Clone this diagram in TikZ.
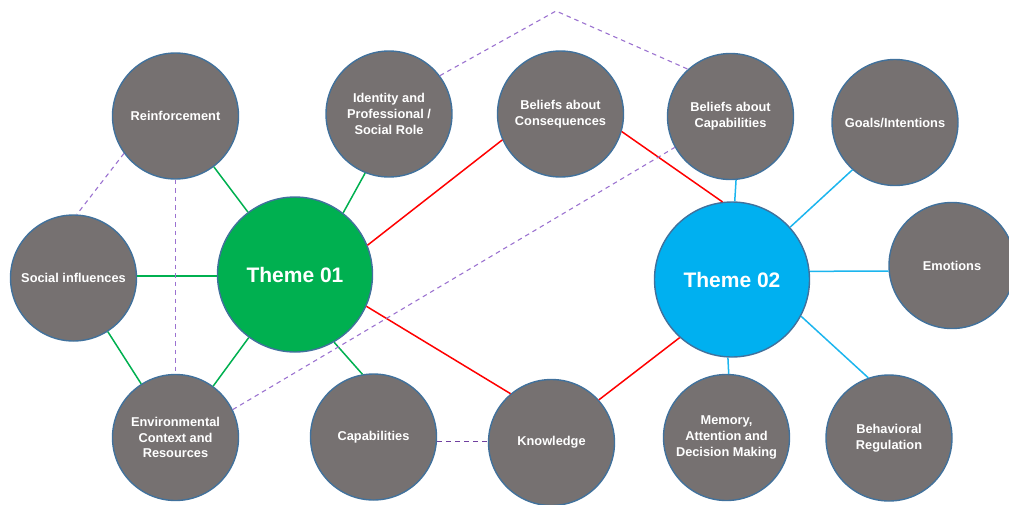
\documentclass[tikz,border=0pt]{standalone}
\usepackage{fontspec}
\setmainfont{Liberation Sans}
\definecolor{nodegray}{HTML}{767171}
\definecolor{nodeborder}{HTML}{41719C}
\definecolor{tgreen}{HTML}{00B050}
\definecolor{tblue}{HTML}{00B0F0}
\definecolor{lblue}{HTML}{1CB5EE}
\definecolor{lred}{HTML}{FF0000}
\definecolor{lpurple}{HTML}{9B72D0}
\definecolor{dpurple}{HTML}{7040A0}
\tikzset{
  x=1pt, y=-1pt,
  topic/.style={circle, draw=nodeborder, line width=1.4pt, fill=nodegray, minimum size=126pt, inner sep=0pt,
    text=white, font=\bfseries\fontsize{12.8}{15.8}\selectfont, align=center},
  theme/.style={circle, draw=nodeborder, line width=1.4pt, minimum size=155pt, inner sep=0pt,
    text=white, font=\bfseries\fontsize{21}{24}\selectfont},
  gline/.style={draw=tgreen, line width=1.5pt},
  bline/.style={draw=lblue, line width=1.5pt},
  rline/.style={draw=lred, line width=1.5pt},
  pdash/.style={draw=lpurple, line width=1.1pt, dash pattern=on 4.5pt off 4pt},
  kdash/.style={draw=dpurple, line width=1.1pt, dash pattern=on 5pt off 4pt},
}
\begin{document}
\begin{tikzpicture}
\useasboundingbox (0,0) rectangle (1009,504);
\clip (0,0) rectangle (1009,504);
\coordinate (apex) at (556,11);
\node[topic] (reinf) at (175.5,116) {Reinforcement};
\node[topic] (ident) at (389,114) {Identity and\\Professional /\\Social Role};
\node[topic] (bcons) at (560.5,114) {Beliefs about\\Consequences};
\node[topic] (bcap) at (730.5,116.5) {Beliefs about\\Capabilities};
\node[topic] (goals) at (895,122.5) {Goals/Intentions};
\node[topic] (soc) at (73.5,278) {Social influences};
\node[theme, fill=tgreen] (t1) at (295,274.5) {Theme 01};
\node[theme, fill=tblue] (t2) at (732,279.5) {Theme 02};
\node[topic] (emo) at (952,265.5) {Emotions};
\node[topic] (env) at (175.5,437.5) {Environmental\\Context and\\Resources};
\node[topic] (cap) at (373.5,437) {Capabilities};
\node[topic] (know) at (551.5,442.5) {Knowledge};
\node[topic] (mem) at (726.5,437.5) {Memory,\\Attention and\\Decision Making};
\node[topic] (beh) at (889,438) {Behavioral\\Regulation};
% green
\draw[gline] (reinf) -- (t1);
\draw[gline] (ident.248) -- (t1.52);
\draw[gline] (soc.east |- 0,276) -- (t1.west |- 0,276);
\draw[gline] (soc) -- (env);
\draw[gline] (t1) -- (env);
\draw[gline] (t1.-60) -- (cap.100);
% red
\draw[rline] (t1.22) -- (bcons.204);
\draw[rline] (bcons.-16) -- (t2.97);
\draw[rline] (t1.-24) -- (know.130);
\draw[rline] (know.42) -- (t2.228);
% blue
\draw[bline] (bcap.-85) -- (t2.88);
\draw[bline] (goals.228) -- (t2.42);
\draw[bline] (t2.6) -- (emo.185);
\draw[bline] (t2.-93) -- (mem.88);
\draw[bline] (t2.-28) -- (beh.109);
% dashed
\draw[pdash] (ident.37) -- (apex) -- (bcap.132);
\draw[pdash] (env.26) -- (bcap.209);
\draw[pdash] (reinf.216) -- (soc.87);
\draw[pdash] (reinf.south) -- (env.north);
\draw[kdash] (cap.east |- 0,441.7) -- (know.west |- 0,441.7);
\end{tikzpicture}
\end{document}
